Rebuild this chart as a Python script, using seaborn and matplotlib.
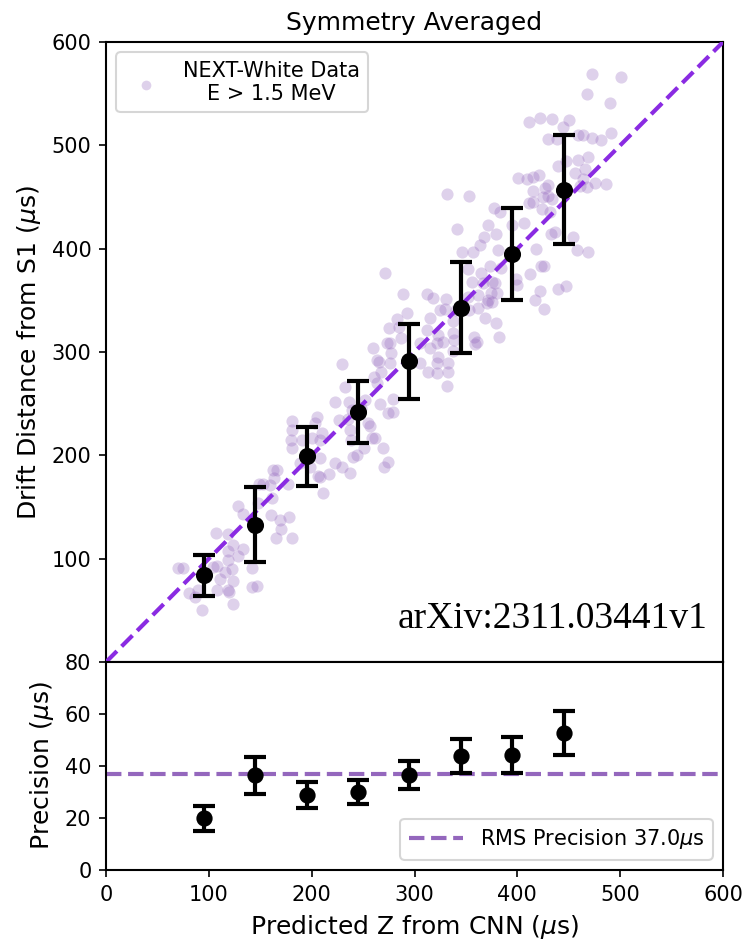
import numpy as np
import pandas as pd
import matplotlib
matplotlib.use("Agg")
import matplotlib.pyplot as plt
import seaborn as sns

# Event-level drift distance vs CNN-predicted Z (microseconds)
pred_z = [70.0, 74.9, 107.0, 118.6, 107.9, 104.1, 118.6, 122.5, 118.6, 123.5,
          128.4, 133.2, 110.9, 115.7, 123.5, 107.9, 118.6, 119.6, 80.7, 86.6,
          89.5, 93.4, 123.5, 142.0, 142.0, 146.8, 128.4, 133.2, 147.8, 148.8,
          152.7, 159.5, 163.4, 161.4, 160.5, 169.2, 170.2, 178.0, 165.3, 180.9,
          166.3, 177.0, 162.4, 180.9, 179.9, 180.9, 229.5, 259.7, 263.5, 273.3,
          267.4, 260.6, 263.5, 232.4, 222.7, 236.3, 239.2, 251.9, 266.5, 274.2,
          226.6, 235.3, 254.8, 256.7, 205.2, 203.3, 210.1, 208.1, 190.6, 200.3,
          237.3, 238.3, 258.7, 261.6, 269.4, 250.9, 244.1, 240.2, 208.1, 222.7,
          229.5, 237.3, 216.9, 206.2, 208.1, 188.7, 198.4, 211.0, 270.4, 274.2,
          180.9, 341.3, 371.5, 367.6, 363.7, 346.2, 356.9, 271.3, 352.0, 364.7,
          373.4, 355.9, 366.6, 288.8, 312.2, 318.0, 330.7, 329.7, 324.8, 292.7,
          283.0, 275.2, 284.9, 315.1, 312.2, 361.8, 370.5, 368.6, 353.0, 322.9,
          337.5, 327.7, 338.4, 321.9, 357.9, 358.9, 286.9, 276.2, 277.2, 265.5,
          276.2, 305.4, 322.9, 321.9, 332.6, 315.1, 305.4, 279.1, 279.1, 248.0,
          331.6, 332.6, 321.9, 313.1, 337.5, 360.8, 340.4, 472.6, 500.8, 467.8,
          490.1, 411.4, 422.1, 433.7, 450.3, 444.4, 429.8, 438.6, 459.0, 463.9,
          472.6, 481.4, 491.1, 468.7, 459.0, 447.4, 439.6, 400.7, 409.4, 415.3,
          421.1, 456.1, 465.8, 463.9, 475.6, 486.3, 467.8, 461.0, 426.9, 429.8,
          415.3, 425.0, 429.8, 433.7, 411.4, 415.3, 424.0, 331.6, 353.0, 377.3,
          383.2, 406.5, 431.8, 394.8, 379.3, 432.8, 436.7, 454.2, 458.0, 418.2,
          381.2, 423.0, 426.0, 384.1, 375.4, 378.3, 412.3, 398.7, 399.7, 374.4,
          380.2, 371.5, 375.4, 352.0, 422.1, 417.2, 426.0, 439.6, 447.4, 361.8,
          379.3, 337.5, 382.2, 468.7]
drift = [91.0, 91.0, 124.8, 123.9, 92.9, 91.9, 98.7, 90.0, 107.4, 113.2,
         102.6, 109.4, 80.3, 87.1, 78.4, 69.7, 69.7, 67.7, 66.8, 62.9,
         69.7, 50.3, 56.1, 91.0, 72.6, 73.5, 151.0, 143.2, 153.9, 172.3,
         172.3, 171.3, 178.1, 158.7, 142.3, 137.4, 128.7, 140.3, 120.0, 120.0,
         185.8, 172.3, 185.8, 233.2, 214.8, 207.1, 288.4, 303.9, 292.2, 308.7,
         280.6, 275.8, 270.0, 266.1, 251.6, 251.6, 243.9, 253.5, 249.7, 241.0,
         234.2, 235.2, 231.3, 228.4, 237.1, 231.3, 221.6, 214.8, 214.8, 216.8,
         224.5, 214.8, 216.8, 216.8, 207.1, 207.1, 200.3, 198.4, 197.4, 192.6,
         188.7, 182.9, 181.9, 180.0, 179.0, 192.6, 188.7, 163.5, 188.7, 193.5,
         224.5, 419.0, 422.9, 411.3, 403.5, 396.8, 396.8, 376.4, 380.3, 376.4,
         383.2, 367.7, 366.8, 356.1, 356.1, 352.2, 351.3, 341.6, 340.6, 337.7,
         331.9, 323.2, 324.2, 332.9, 321.3, 355.1, 347.4, 332.9, 340.6, 316.4,
         318.4, 309.7, 311.6, 308.7, 314.5, 307.7, 313.5, 308.7, 299.0, 290.3,
         289.3, 289.3, 295.1, 289.3, 289.3, 303.9, 308.7, 241.9, 254.5, 245.8,
         267.1, 280.6, 279.7, 280.6, 301.0, 309.7, 340.6, 569.0, 566.1, 549.7,
         541.0, 522.6, 526.4, 525.5, 524.5, 517.7, 506.1, 506.1, 510.0, 510.0,
         507.1, 505.1, 511.9, 488.7, 485.8, 484.8, 480.0, 468.4, 467.4, 469.3,
         471.3, 473.2, 477.1, 467.4, 463.5, 462.6, 459.7, 460.6, 458.7, 461.6,
         455.8, 450.0, 451.0, 448.0, 444.2, 445.1, 438.4, 452.9, 451.0, 439.3,
         435.5, 424.8, 435.5, 422.9, 414.2, 414.2, 416.1, 411.3, 398.7, 399.7,
         398.7, 383.2, 383.2, 381.3, 367.7, 366.8, 375.5, 370.6, 364.8, 357.1,
         357.1, 350.3, 348.4, 353.2, 359.0, 350.3, 341.6, 361.0, 363.9, 342.6,
         328.1, 330.0, 314.5, 396.8]

# Binned summary
bin_center = [95, 145, 195, 245, 295, 345, 395, 445]
bin_mean = [84, 133, 199, 242, 291, 343, 395, 457]
precision = [20.0, 36.5, 28.9, 29.9, 36.4, 43.9, 44.2, 52.8]
precision_err = [4.8, 7.1, 5.0, 4.6, 5.4, 6.5, 7.0, 8.4]
rms_precision = 37.0

events = pd.DataFrame({"pred": pred_z, "drift": drift})

plt.rcParams["font.family"] = ["DejaVu Sans"]
plt.rcParams["mathtext.fontset"] = "dejavusans"

fig = plt.figure(figsize=(7.44 / 1.5, 9.42 / 1.5), dpi=150)
ax_top = fig.add_axes([0.1425, 0.2972, 0.8293, 0.6582])
ax_bot = fig.add_axes([0.1425, 0.0764, 0.8293, 0.2208], sharex=ax_top)

# Upper panel: event scatter, identity line and binned means
sns.scatterplot(data=events, x="pred", y="drift", ax=ax_top, color="tab:purple",
                alpha=0.3, s=34, linewidth=0, label="NEXT-White Data\nE > 1.5 MeV",
                zorder=2)
ax_top.plot([0, 600], [0, 600], color="blueviolet", lw=2, ls="--", zorder=3)
ax_top.errorbar(bin_center, bin_mean, yerr=precision, fmt="o", color="black",
                markersize=7.2, elinewidth=2, capsize=5.5, capthick=2, zorder=4)
ax_top.set_xlim(0, 600)
ax_top.set_ylim(0, 600)
ax_top.set_yticks([100, 200, 300, 400, 500, 600])
ax_top.tick_params(axis="x", labelbottom=False, bottom=False)
ax_top.tick_params(axis="y", labelsize=10)
ax_top.set_ylabel(r"Drift Distance from S1 ($\mu$s)", fontsize=12)
ax_top.set_xlabel("")
ax_top.set_title("Symmetry Averaged", fontsize=12)
leg = ax_top.legend(loc="upper left", fontsize=10, markerscale=0.8)
for t in leg.get_texts():
    t.set_multialignment("center")
ax_top.text(0.975, 0.07, "arXiv:2311.03441v1", transform=ax_top.transAxes,
            ha="right", va="center", fontsize=18, family="Liberation Serif")

# Lower panel: precision per bin
ax_bot.axhline(rms_precision, color="tab:purple", lw=2, ls="--",
               label=rf"RMS Precision {rms_precision:.1f}$\mu$s", zorder=2)
ax_bot.errorbar(bin_center, precision, yerr=precision_err, fmt="o", color="black",
                markersize=6.8, elinewidth=2, capsize=5.5, capthick=2, zorder=3)
ax_bot.set_ylim(0, 80)
ax_bot.set_yticks([0, 20, 40, 60, 80])
ax_bot.set_xticks([0, 100, 200, 300, 400, 500, 600])
ax_bot.tick_params(labelsize=10)
ax_bot.set_ylabel(r"Precision ($\mu$s)", fontsize=12)
ax_bot.set_xlabel(r"Predicted Z from CNN ($\mu$s)", fontsize=12)
ax_bot.legend(loc="lower right", fontsize=10, handlelength=2.6)

for ax in (ax_top, ax_bot):
    for sp in ax.spines.values():
        sp.set_linewidth(1.0)
        sp.set_color("black")

fig.savefig("out.png", dpi=150)
